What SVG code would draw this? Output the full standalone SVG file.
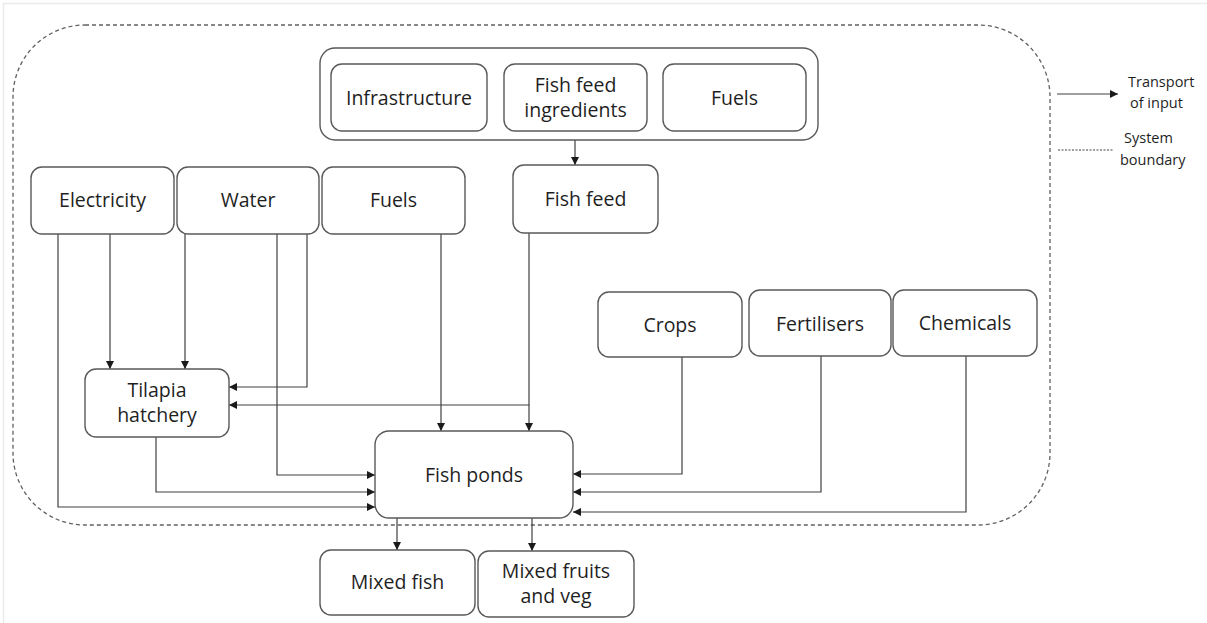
<svg xmlns="http://www.w3.org/2000/svg" width="1207" height="623" viewBox="0 0 1207 623">
  <style>
    .box { fill: #ffffff; stroke: #595959; stroke-width: 1.4; }
    .lbl { font-family: "Open Sans", "Noto Sans", "Liberation Sans", sans-serif; font-size: 19.5px; fill: #1f1f1f; text-anchor: middle; }
    .leg { font-family: "Open Sans", "Noto Sans", "Liberation Sans", sans-serif; font-size: 14.5px; fill: #1f1f1f; }
    .wire { fill: none; stroke: #404040; stroke-width: 1.2; }
    .boundary { fill: none; stroke: #606060; stroke-width: 1.3; stroke-dasharray: 4 3; }
  </style>
  <defs>
    <marker id="head" viewBox="0 0 10 10" refX="10" refY="5" markerWidth="8" markerHeight="8" markerUnits="userSpaceOnUse" orient="auto">
      <path d="M0,0 L10,5 L0,10 Z" fill="#1a1a1a"/>
    </marker>
  </defs>

  <rect width="1207" height="623" fill="#ffffff"/>
  <!-- frame edge -->
  <path d="M3.5,623 V3.5 H1207" fill="none" stroke="#ebebeb" stroke-width="1.5"/>

  <!-- system boundary -->
  <rect class="boundary" x="13" y="25" width="1037" height="500" rx="72" ry="72"/>

  <!-- connectors -->
  <g id="connectors">
    <path class="wire" d="M575,140 V165" marker-end="url(#head)"/>
    <path class="wire" d="M110,234 V369" marker-end="url(#head)"/>
    <path class="wire" d="M185,234 V369" marker-end="url(#head)"/>
    <path class="wire" d="M307,234 V387 H229" marker-end="url(#head)"/>
    <path class="wire" d="M529,233 V405 H229" marker-end="url(#head)"/>
    <path class="wire" d="M529,405 V431" marker-end="url(#head)"/>
    <path class="wire" d="M441,234 V431" marker-end="url(#head)"/>
    <path class="wire" d="M277,234 V475 H375" marker-end="url(#head)"/>
    <path class="wire" d="M156,437 V492 H375" marker-end="url(#head)"/>
    <path class="wire" d="M58,234 V507 H375" marker-end="url(#head)"/>
    <path class="wire" d="M682,357 V474 H573" marker-end="url(#head)"/>
    <path class="wire" d="M821,356 V492 H573" marker-end="url(#head)"/>
    <path class="wire" d="M966,356 V512 H573" marker-end="url(#head)"/>
    <path class="wire" d="M397,518 V550" marker-end="url(#head)"/>
    <path class="wire" d="M532,518 V551" marker-end="url(#head)"/>
  </g>

  <!-- upstream inputs for feed -->
  <g id="feed-inputs">
    <rect class="box" x="320" y="48" width="498" height="92" rx="15"/>
  </g>
  <g id="infrastructure">
    <rect class="box" x="331" y="64" width="156" height="67" rx="11"/>
    <text class="lbl" x="409" y="105">Infrastructure</text>
  </g>
  <g id="fish-feed-ingredients">
    <rect class="box" x="504" y="64" width="143" height="67" rx="11"/>
    <text class="lbl" x="575.5" y="92">Fish feed</text>
    <text class="lbl" x="575.5" y="117">ingredients</text>
  </g>
  <g id="fuels-feed">
    <rect class="box" x="663" y="64" width="143" height="67" rx="11"/>
    <text class="lbl" x="734.5" y="105">Fuels</text>
  </g>

  <!-- direct inputs -->
  <g id="electricity">
    <rect class="box" x="31" y="167" width="143" height="67" rx="11"/>
    <text class="lbl" x="102.5" y="207">Electricity</text>
  </g>
  <g id="water">
    <rect class="box" x="177" y="167" width="142" height="67" rx="11"/>
    <text class="lbl" x="248" y="207">Water</text>
  </g>
  <g id="fuels">
    <rect class="box" x="322" y="167" width="143" height="67" rx="11"/>
    <text class="lbl" x="393.5" y="207">Fuels</text>
  </g>
  <g id="fish-feed">
    <rect class="box" x="513" y="165" width="145" height="68" rx="11"/>
    <text class="lbl" x="585.5" y="206">Fish feed</text>
  </g>
  <g id="crops">
    <rect class="box" x="598" y="292" width="144" height="65" rx="11"/>
    <text class="lbl" x="670" y="332">Crops</text>
  </g>
  <g id="fertilisers">
    <rect class="box" x="749" y="290" width="142" height="66" rx="11"/>
    <text class="lbl" x="820" y="331">Fertilisers</text>
  </g>
  <g id="chemicals">
    <rect class="box" x="893" y="290" width="144" height="66" rx="11"/>
    <text class="lbl" x="965" y="330">Chemicals</text>
  </g>

  <!-- processes -->
  <g id="tilapia-hatchery">
    <rect class="box" x="85" y="369" width="144" height="68" rx="11"/>
    <text class="lbl" x="157" y="397">Tilapia</text>
    <text class="lbl" x="157" y="422">hatchery</text>
  </g>
  <g id="fish-ponds">
    <rect class="box" x="375" y="431" width="198" height="87" rx="14"/>
    <text class="lbl" x="474" y="482">Fish ponds</text>
  </g>

  <!-- outputs -->
  <g id="mixed-fish">
    <rect class="box" x="320" y="550" width="155" height="65" rx="11"/>
    <text class="lbl" x="397.5" y="589">Mixed fish</text>
  </g>
  <g id="mixed-fruits-veg">
    <rect class="box" x="478" y="551" width="156" height="66" rx="11"/>
    <text class="lbl" x="556" y="578">Mixed fruits</text>
    <text class="lbl" x="556" y="603">and veg</text>
  </g>

  <!-- legend -->
  <g id="legend">
    <path class="wire" d="M1057,94 H1118" stroke-width="1.4" marker-end="url(#head)"/>
    <text class="leg" x="1128" y="87">Transport</text>
    <text class="leg" x="1130" y="108">of input</text>
    <path d="M1058,150 H1113" fill="none" stroke="#404040" stroke-width="1.1" stroke-dasharray="2 1.5"/>
    <text class="leg" x="1124" y="143">System</text>
    <text class="leg" x="1120" y="165">boundary</text>
  </g>
</svg>
